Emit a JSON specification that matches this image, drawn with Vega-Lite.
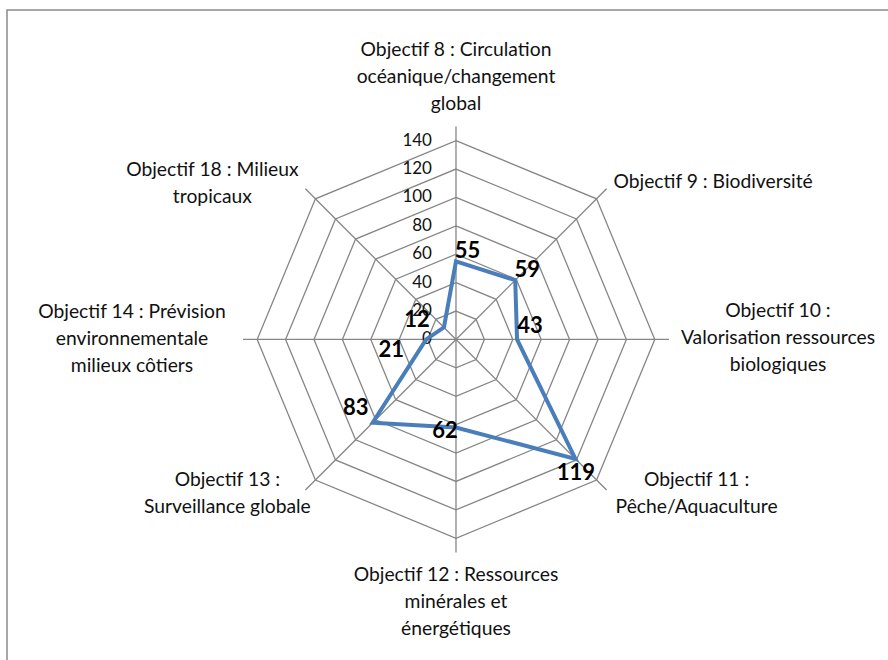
{
  "$schema": "https://vega.github.io/schema/vega-lite/v6.json",
  "autosize": {"type": "none"},
  "width": 893,
  "height": 662,
  "padding": {"left": 7, "top": 10, "right": -12, "bottom": -12},
  "background": "white",
  "config": {"view": {"stroke": "#8a8a8a", "strokeWidth": 1.5}},
  "datasets": {
    "objectifs": [
      {"rang": 0, "objectif": "Objectif 8 : Circulation\nocéanique/changement\nglobal", "valeur": 55},
      {"rang": 1, "objectif": "Objectif 9 : Biodiversité", "valeur": 59},
      {"rang": 2, "objectif": "Objectif 10 :\nValorisation ressources\nbiologiques", "valeur": 43},
      {"rang": 3, "objectif": "Objectif 11 :\nPêche/Aquaculture", "valeur": 119},
      {"rang": 4, "objectif": "Objectif 12 : Ressources\nminérales et\nénergétiques", "valeur": 62},
      {"rang": 5, "objectif": "Objectif 13 :\nSurveillance globale", "valeur": 83},
      {"rang": 6, "objectif": "Objectif 14 : Prévision\nenvironnementale\nmilieux côtiers", "valeur": 21},
      {"rang": 7, "objectif": "Objectif 18 : Milieux\ntropicaux", "valeur": 12}
    ],
    "graduations": [
      {"g": 0}, {"g": 20}, {"g": 40}, {"g": 60}, {"g": 80}, {"g": 100}, {"g": 120}, {"g": 140}
    ]
  },
  "encoding": {
    "x": {"field": "x", "type": "quantitative", "scale": {"domain": [-316.2, 312.7], "nice": false, "zero": false}, "axis": null},
    "y": {"field": "y", "type": "quantitative", "scale": {"domain": [-234.2, 232.0], "nice": false, "zero": false}, "axis": null}
  },
  "layer": [
    {
      "data": {"name": "graduations"},
      "transform": [
        {"filter": "datum.g > 0"},
        {"calculate": "[0,1,2,3,4,5,6,7]", "as": "k"},
        {"flatten": ["k"]},
        {"calculate": "datum.g * sin(datum.k * PI / 4)", "as": "x"},
        {"calculate": "datum.g * cos(datum.k * PI / 4)", "as": "y"}
      ],
      "mark": {"type": "line", "interpolate": "linear-closed", "color": "#868686", "strokeWidth": 1.3},
      "encoding": {
        "detail": {"field": "g", "type": "nominal"},
        "order": {"field": "k", "type": "quantitative"}
      }
    },
    {
      "data": {"name": "objectifs"},
      "transform": [
        {"calculate": "0", "as": "x"},
        {"calculate": "0", "as": "y"},
        {"calculate": "150 * sin(datum.rang * PI / 4)", "as": "x2"},
        {"calculate": "150 * cos(datum.rang * PI / 4)", "as": "y2"}
      ],
      "mark": {"type": "rule", "color": "#868686", "strokeWidth": 1.3},
      "encoding": {
        "x2": {"field": "x2"},
        "y2": {"field": "y2"}
      }
    },
    {
      "data": {"name": "graduations"},
      "transform": [
        {"calculate": "0", "as": "x"},
        {"calculate": "datum.g", "as": "y"}
      ],
      "mark": {"type": "text", "align": "right", "baseline": "middle", "dx": -24, "font": "Lato", "fontSize": 17, "color": "#111111"},
      "encoding": {
        "text": {"field": "g", "type": "quantitative"}
      }
    },
    {
      "data": {"name": "objectifs"},
      "transform": [
        {"calculate": "datum.valeur * sin(datum.rang * PI / 4)", "as": "x"},
        {"calculate": "datum.valeur * cos(datum.rang * PI / 4)", "as": "y"}
      ],
      "mark": {"type": "line", "interpolate": "linear-closed", "color": "#4a7ebb", "strokeWidth": 4},
      "encoding": {
        "order": {"field": "rang", "type": "quantitative"}
      }
    },
    {
      "data": {"name": "objectifs"},
      "transform": [
        {"calculate": "datum.valeur * sin(datum.rang * PI / 4)", "as": "x"},
        {"calculate": "datum.valeur * cos(datum.rang * PI / 4)", "as": "y"}
      ],
      "mark": {
        "type": "text", "align": "center", "baseline": "middle", "font": "Lato", "fontWeight": "bold", "fontSize": 22, "color": "#000000",
        "dx": {"expr": "[11.5, 12, 13, 0.5, -11, -17, -35, -27][datum.rang]"},
        "dy": {"expr": "[-10, -10, -13, 14, 3.5, -15, 11, -7.5][datum.rang]"}
      },
      "encoding": {
        "text": {"field": "valeur", "type": "quantitative"}
      }
    },
    {
      "data": {"name": "objectifs"},
      "transform": [
        {"calculate": "150 * sin(datum.rang * PI / 4)", "as": "x"},
        {"calculate": "150 * cos(datum.rang * PI / 4)", "as": "y"}
      ],
      "mark": {
        "type": "text", "align": "center", "baseline": "middle", "font": "Lato", "fontSize": 19.3, "color": "#111111", "lineBreak": "\n", "lineHeight": 27,
        "dx": {"expr": "[0, 106.5, 109, 90, 0, -78, -111, -93][datum.rang]"},
        "dy": {"expr": "[-76, -7, -28.5, -10.5, 23, -10.5, -27, -18.5][datum.rang]"}
      },
      "encoding": {
        "text": {"field": "objectif", "type": "nominal"}
      }
    }
  ]
}
